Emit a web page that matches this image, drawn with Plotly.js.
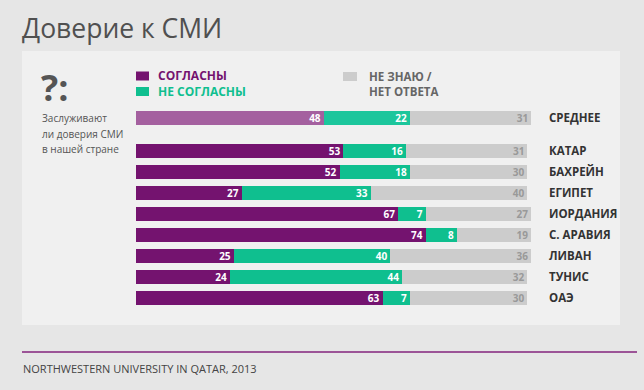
<!DOCTYPE html>
<html><head><meta charset="utf-8">
<script src="https://cdn.plot.ly/plotly-3.0.1.min.js"></script>
<style>html,body{margin:0;padding:0;background:#e6e6e6;}#chart{width:644px;height:390px;}</style>
</head><body><div id="chart"></div>
<script>
const categories = ["СРЕДНЕЕ","КАТАР","БАХРЕЙН","ЕГИПЕТ","ИОРДАНИЯ","С. АРАВИЯ","ЛИВАН","ТУНИС","ОАЭ"];
const agree    = [48,53,52,27,67,74,25,24,63];
const disagree = [22,16,18,33,7,8,40,44,7];
const dontKnow = [31,31,30,40,27,19,36,32,30];
const seriesNames = ["СОГЛАСНЫ","НЕ СОГЛАСНЫ","НЕ ЗНАЮ /<br>НЕТ ОТВЕТА"];
const questionLines = ["Заслуживают","ли доверия СМИ","в нашей стране"];
const titleText = "Доверие к СМИ";
const sourceText = "NORTHWESTERN UNIVERSITY IN QATAR, 2013";

const W=644,H=390, ML=136, MR=108, MT=98, MB=82;
const PW=W-ML-MR, PH=H-MT-MB;
const px2x = p => (p-ML)/PW;
const py2y = p => 1-(p-MT)/PH;
// row positions: average row set apart with an extra gap
const ypos = categories.map((c,i)=> i===0 ? -33/21 : i-1);

const FONT = "Open Sans";
const PURPLE="#74136f", PURPLE_L="#a4609f", GREEN="#0fbf8f", GREEN_L="#1cc69c", GREY="#cccccc";

function barTrace(vals, colors, txtColor){
  return {type:'bar', orientation:'h', y:ypos, x:vals, width:0.667,
    marker:{color:colors, line:{width:0}},
    text: vals.map(String), textposition:'inside', insidetextanchor:'end',
    textangle:0, constraintext:'none',
    textfont:{family:FONT, size:10, color:txtColor, weight:700},
    hoverinfo:'skip', showlegend:false};
}
const traces = [
  barTrace(agree, categories.map((c,i)=>i===0?PURPLE_L:PURPLE), '#ffffff'),
  barTrace(disagree, categories.map((c,i)=>i===0?GREEN_L:GREEN), '#ffffff'),
  barTrace(dontKnow, categories.map(()=>GREY), '#999999')
];

function rect(x0,x1,y0,y1,fill){
  return {type:'rect', xref:'paper', yref:'paper', x0:px2x(x0), x1:px2x(x1), y0:py2y(y0), y1:py2y(y1),
    fillcolor:fill, line:{width:0}, layer:'below'};
}
function ann(text,x,y,size,color,weight,extra){
  return Object.assign({text:text, xref:'paper', yref:'paper', x:px2x(x), y:py2y(y), xanchor:'left', yanchor:'middle',
    showarrow:false, font:{family:FONT, size:size, color:color, weight:weight||400}}, extra||{});
}

const layout = {
  width:W, height:H, margin:{l:ML, r:MR, t:MT, b:MB},
  paper_bgcolor:'#e6e6e6', plot_bgcolor:'rgba(0,0,0,0)',
  barmode:'stack', bargap:0,
  title:{text:titleText, x:22/W, xref:'container', xanchor:'left', y:1-29/H, yref:'container', yanchor:'middle',
    font:{family:FONT, size:26.5, color:'#505050', weight:400}},
  xaxis:{range:[0,102.2], visible:false, fixedrange:true},
  yaxis:{range:[7.5,-2.5], tickvals:ypos, ticktext:categories, side:'right', showgrid:false, zeroline:false,
    showline:false, ticks:'', ticklabelstandoff:12, fixedrange:true,
    tickfont:{family:FONT, size:11.5, color:'#333333', weight:700}},
  shapes:[
    rect(22,620,51,325,'#f0f0f0'),
    Object.assign(rect(136,149,71.5,80.5,PURPLE),{layer:'above'}),
    Object.assign(rect(136,149,87,96,GREEN),{layer:'above'}),
    Object.assign(rect(343,357,72,81,GREY),{layer:'above'}),
    {type:'line', xref:'paper', yref:'paper', x0:px2x(22), x1:px2x(637), y0:py2y(352), y1:py2y(352),
      line:{color:'#9c5497', width:2}}
  ],
  annotations:[
    ann("?:",39,87,36,'#555555',700),
    ann(questionLines[0],40,118,10,'#555555'),
    ann(questionLines[1],40,133.5,10,'#555555'),
    ann(questionLines[2],40,149,10,'#555555'),
    ann(seriesNames[0],156,76,12,PURPLE,700),
    ann(seriesNames[1],156,91.5,12,GREEN,700),
    ann(seriesNames[2],367,84,11.5,'#666666',700,{align:'left'}),
    ann(sourceText,21,368,11,'#444444',400)
  ]
};
Plotly.newPlot('chart', traces, layout, {staticPlot:true, displayModeBar:false});
</script></body></html>
